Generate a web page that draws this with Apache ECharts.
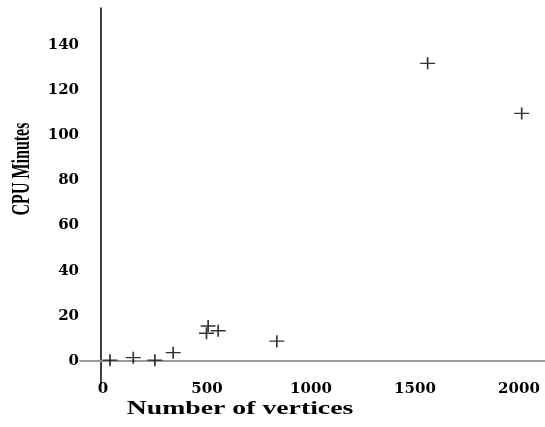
<!DOCTYPE html>
<html>
<head>
<meta charset="utf-8">
<script src="https://cdn.jsdelivr.net/npm/echarts@6/dist/echarts.min.js"></script>
<style>html,body{margin:0;padding:0;background:#fff;}#c{width:545px;height:427px;}</style>
</head>
<body>
<div id="c"></div>
<script>
const vertices = [34, 146, 250, 338, 498, 506, 554, 836, 1561, 2013];
const cpuMinutes = [0.4, 1.5, 0.4, 3.7, 12.3, 15.5, 13.4, 8.8, 131.9, 109.7];
const xTicks = [0, 500, 1000, 1500, 2000];
const yTicks = [0, 20, 40, 60, 80, 100, 120, 140];
const xTitle = 'Number of vertices';
const yTitle = 'CPU Minutes';

const chart = echarts.init(document.getElementById('c'), null, {renderer: 'canvas'});
const tickFont = {fontFamily: 'DejaVu Serif', fontWeight: 'bold', fontSize: 15, color: '#000', formatter: v => String(v)};
chart.setOption({
  animation: false,
  backgroundColor: '#fff',
  grid: {left: 80, right: 0, top: 8, height: 375.6},
  xAxis: {
    type: 'value', min: -110, max: 2125,
    axisLine: {onZero: true, lineStyle: {color: '#999', width: 2}},
    axisTick: {show: false},
    splitLine: {show: false},
    axisLabel: Object.assign({customValues: xTicks, margin: -2}, tickFont)
  },
  yAxis: {
    type: 'value', min: -10, max: 156.4,
    axisLine: {onZero: false, lineStyle: {color: '#000', width: 1.5}},
    offset: -21,
    axisTick: {show: false},
    splitLine: {show: false},
    axisLabel: Object.assign({customValues: yTicks, margin: 22}, tickFont)
  },
  graphic: [
    {type: 'text', x: 240, y: 409, scaleX: 1.5, style: {text: xTitle, font: 'bold 18.5px "Liberation Serif"', fill: '#000', textAlign: 'center', textVerticalAlign: 'middle'}},
    {type: 'text', x: 22.5, y: 169, rotation: Math.PI / 2, scaleY: 1.6, style: {text: yTitle, font: 'bold 16px "Liberation Serif"', fill: '#000', textAlign: 'center', textVerticalAlign: 'middle'}}
  ],
  series: [{
    type: 'scatter',
    data: vertices.map((v, i) => [v, cpuMinutes[i]]),
    symbol: 'path://M0,5L10,5M5,0L5,10',
    symbolSize: [15, 12],
    itemStyle: {color: 'rgba(0,0,0,0)', borderColor: '#000', borderWidth: 1.5}
  }]
});
</script>
</body>
</html>
